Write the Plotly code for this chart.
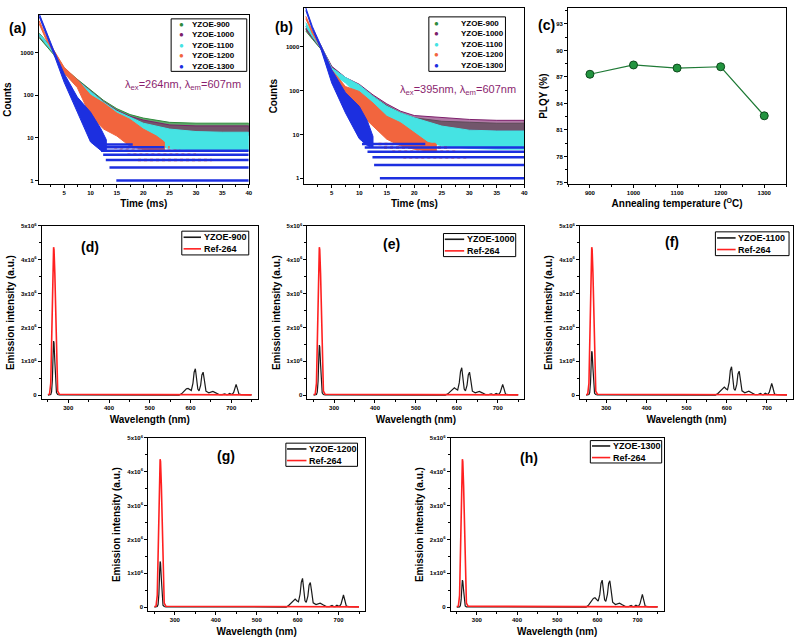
import plotly.graph_objects as go

FONT = "Liberation Sans"
W, H = 800, 642

SERIES = ["YZOE-900", "YZOE-1000", "YZOE-1100", "YZOE-1200", "YZOE-1300"]
COLORS = ["#2e8b3c", "#7d1f6b", "#45e3e3", "#f2653e", "#1c2fe0"]
FILLS = ["rgba(46,139,60,0.75)", "rgba(125,31,107,0.6)", "#45e3e3", "#f2653e", "#1c2fe0"]

# ---------------- (a) decay, lambda_ex = 264 nm (counts envelopes)
a_t = [0.3, 1.5, 3, 5, 7.5, 10, 12.5, 15, 17.5, 20, 25, 30, 35, 40]
a_900_hi = [2800, 1900, 1100, 430, 235, 135, 75, 48, 35, 29, 23, 22, 22, 22]
a_900_lo = [2200, 1500, 900, 350, 185, 105, 58, 36, 25, 20, 15, 13, 13, 13]
a_1000_hi = [2700, 1850, 1080, 420, 225, 128, 70, 44, 32, 26, 20, 19, 19, 19]
a_1000_lo = [2350, 1620, 950, 340, 175, 95, 52, 31, 21, 17, 12.5, 11.5, 11.5, 11.5]
a_1100_hi = [2700, 1850, 1080, 420, 220, 120, 68, 42, 30, 22, 16, 14, 13.5, 13.5]
a_1100_lo = [2450, 1650, 960, 330, 160, 75, 36, 18, 11, 8, 5.5, 5, 5, 5]
a_t_1200 = [0.3, 1.5, 3, 5, 7.5, 10, 12.5, 15, 17.5, 20, 22.5, 24]
a_1200_hi = [5500, 2500, 1150, 450, 230, 100, 65, 38, 27, 16, 11, 8]
a_1200_lo = [4600, 2100, 1000, 330, 150, 32, 16, 11, 6.3, 5.3, 5, 5]
a_t_1300 = [0.3, 1.5, 3, 5, 7.5, 10, 12, 13]
a_1300_hi = [8000, 3300, 1150, 320, 90, 40, 16, 9]
a_1300_lo = [6800, 2700, 950, 200, 40, 8, 5, 5]
a_1300_levels = [1, 2, 3, 4, 5, 6, 7]
a_1300_start = [14.9, 13.6, 12.9, 12.4, 12.0, 11.5, 11.1]
a_1300_end = [40, 40, 40, 40, 40, 24, 18]
a_1200_levels = [3, 4, 5, 6]
a_1200_start = [19, 17, 15.5, 14.5]
a_1200_end = [33, 30, 27, 25]

# ---------------- (b) decay, lambda_ex = 395 nm
b_t = [0.3, 1.5, 3, 5, 7.5, 10, 12.5, 15, 17.5, 20, 25, 30, 35, 40]
b_900_hi = [2700, 1800, 1050, 340, 190, 130, 74, 46, 31, 24, 20, 19, 18, 18]
b_900_lo = [2300, 1500, 900, 280, 155, 95, 55, 34, 22, 17, 13, 12, 12, 12]
b_1000_hi = [3000, 1900, 1080, 360, 200, 140, 80, 50, 34, 27, 24, 22, 21, 21]
b_1000_lo = [2500, 1600, 930, 290, 160, 100, 58, 36, 23, 18, 13.5, 12.5, 12, 12]
b_1100_hi = [3600, 2000, 1100, 330, 200, 135, 74, 44, 31, 24, 15.5, 12.5, 12, 12]
b_1100_lo = [3000, 1700, 950, 250, 150, 74, 37, 15.5, 11, 7.7, 5.5, 4.8, 4.6, 4.6]
b_t_1200 = [0.3, 1.5, 3, 5, 7.5, 10, 12.5, 15, 17.5, 20, 22.5, 24]
b_1200_hi = [5000, 2300, 1100, 300, 124, 96, 52, 26, 18.5, 11, 6.5, 6]
b_1200_lo = [4400, 2000, 950, 190, 62, 31, 15.5, 7.8, 5.5, 4.6, 4.2, 4.2]
b_t_1300 = [0.3, 1.5, 3, 5, 7.5, 10, 11.5, 12.5]
b_1300_hi = [7800, 2900, 1100, 300, 90, 44, 20, 9]
b_1300_lo = [6800, 2500, 920, 150, 31, 8, 5.5, 5]
b_1300_levels = [1, 2, 3, 4, 5, 6]
b_1300_start = [13.75, 12.7, 12.4, 11.5, 11.0, 10.5]
b_1300_end = [40, 40, 40, 40, 40, 22]
b_1200_levels = [3, 4, 5, 6]
b_1200_start = [18, 16, 14.5, 13.5]
b_1200_end = [30, 28, 26, 24]

# ---------------- (c) PLQY
c_temp = [900, 1000, 1100, 1200, 1300]
c_plqy = [87.3, 88.35, 88.0, 88.15, 82.6]

# ---------------- (d)-(h) emission spectra (units of 1e6)
wl = [250, 254, 257, 259, 261, 263, 264, 265, 267, 269, 271, 274, 278, 300, 330, 350, 400, 500,
      572, 578, 585, 590, 594, 598, 602, 606, 609, 612, 615, 618, 621, 625, 628, 631, 634, 638,
      645, 650, 655, 662, 670, 678, 684, 688, 692, 696, 699, 702, 706, 709, 712, 715, 719, 725, 735, 750]
ref_264 = [0.02, 0.03, 0.35, 1.5, 3.0, 4.1, 4.37, 4.3, 3.6, 2.3, 1.0, 0.12, 0.03, 0.03, 0.03, 0.02, 0.01, 0.01,
           0.01, 0.01, 0.01, 0.01, 0.01, 0.01, 0.01, 0.01, 0.01, 0.01, 0.01, 0.01, 0.01, 0.01, 0.01, 0.01, 0.01, 0.01,
           0.01, 0.01, 0.01, 0.01, 0.01, 0.01, 0.01, 0.01, 0.01, 0.01, 0.01, 0.01, 0.01, 0.01, 0.01, 0.01, 0.01, 0.01, 0.01, 0.01]
yzoe_900 = [0.0, 0.0, 0.02, 0.1, 0.45, 1.3, 1.6, 1.55, 1.0, 0.35, 0.08, 0.02, 0.01, 0.01, 0.01, 0.005, 0.005, 0.005,
            0.005, 0.04, 0.12, 0.19, 0.2, 0.16, 0.14, 0.35, 0.68, 0.78, 0.5, 0.18, 0.13, 0.3, 0.6, 0.68, 0.45, 0.12,
            0.07, 0.09, 0.11, 0.07, 0.02, 0.02, 0.04, 0.02, 0.02, 0.05, 0.03, 0.02, 0.08, 0.22, 0.32, 0.2, 0.03, 0.02, 0.01, 0.01]
yzoe_1000 = [0.0, 0.0, 0.02, 0.09, 0.42, 1.2, 1.48, 1.43, 0.92, 0.32, 0.07, 0.02, 0.01, 0.01, 0.01, 0.005, 0.005, 0.005,
             0.005, 0.04, 0.13, 0.2, 0.22, 0.18, 0.15, 0.37, 0.7, 0.81, 0.52, 0.18, 0.13, 0.3, 0.6, 0.68, 0.45, 0.12,
             0.07, 0.09, 0.11, 0.07, 0.02, 0.02, 0.04, 0.02, 0.02, 0.05, 0.03, 0.02, 0.08, 0.22, 0.32, 0.2, 0.03, 0.02, 0.01, 0.01]
yzoe_1100 = [0.0, 0.0, 0.02, 0.08, 0.37, 1.05, 1.3, 1.26, 0.8, 0.28, 0.06, 0.02, 0.01, 0.01, 0.01, 0.005, 0.005, 0.005,
             0.005, 0.05, 0.14, 0.22, 0.24, 0.19, 0.16, 0.38, 0.73, 0.84, 0.54, 0.19, 0.14, 0.32, 0.63, 0.71, 0.47, 0.13,
             0.07, 0.09, 0.12, 0.07, 0.02, 0.02, 0.05, 0.02, 0.02, 0.06, 0.03, 0.02, 0.09, 0.24, 0.35, 0.22, 0.03, 0.02, 0.01, 0.01]
yzoe_1200 = [0.0, 0.0, 0.02, 0.08, 0.38, 1.1, 1.35, 1.3, 0.84, 0.29, 0.06, 0.02, 0.01, 0.01, 0.01, 0.005, 0.005, 0.005,
             0.005, 0.05, 0.14, 0.22, 0.24, 0.19, 0.16, 0.39, 0.74, 0.85, 0.55, 0.19, 0.14, 0.33, 0.65, 0.73, 0.48, 0.13,
             0.08, 0.1, 0.12, 0.07, 0.02, 0.02, 0.05, 0.02, 0.02, 0.06, 0.03, 0.02, 0.09, 0.25, 0.36, 0.22, 0.03, 0.02, 0.01, 0.01]
yzoe_1300 = [0.0, 0.0, 0.01, 0.05, 0.23, 0.65, 0.8, 0.77, 0.5, 0.17, 0.04, 0.01, 0.01, 0.01, 0.01, 0.005, 0.005, 0.005,
             0.005, 0.06, 0.17, 0.26, 0.28, 0.22, 0.18, 0.37, 0.7, 0.8, 0.55, 0.22, 0.17, 0.38, 0.7, 0.78, 0.52, 0.15,
             0.08, 0.1, 0.12, 0.07, 0.02, 0.02, 0.05, 0.02, 0.02, 0.06, 0.03, 0.02, 0.1, 0.26, 0.38, 0.23, 0.03, 0.02, 0.01, 0.01]

SPEC_Y_TICKS = [0, 1, 2, 3, 4, 5]
SPEC_Y_TEXT = ["0", "1x10<sup>6</sup>", "2x10<sup>6</sup>", "3x10<sup>6</sup>", "4x10<sup>6</sup>", "5x10<sup>6</sup>"]

fig = go.Figure()


def pxx(x):
    return x / W


def pxy(y):
    return 1 - y / H


def band(t, hi, lo, color, fill, n):
    fig.add_trace(go.Scatter(x=list(t) + list(t)[::-1], y=list(hi) + list(lo)[::-1], mode="lines",
                             fill="toself", fillcolor=fill, line=dict(color=color, width=1),
                             xaxis="x%d" % n, yaxis="y%d" % n, showlegend=False, hoverinfo="skip"))


def rows(levels, starts, ends, color, n, dash, width):
    xs, ys = [], []
    for lv, s, e in zip(levels, starts, ends):
        xs += [s, e, None]
        ys += [lv, lv, None]
    fig.add_trace(go.Scatter(x=xs, y=ys, mode="lines", line=dict(color=color, width=width, dash=dash),
                             xaxis="x%d" % n, yaxis="y%d" % n, showlegend=False, hoverinfo="skip"))


# panel (a)
band(a_t, a_900_hi, a_900_lo, COLORS[0], FILLS[0], 1)
band(a_t, a_1000_hi, a_1000_lo, COLORS[1], FILLS[1], 1)
band(a_t, a_1100_hi, a_1100_lo, COLORS[2], FILLS[2], 1)
band(a_t_1200, a_1200_hi, a_1200_lo, COLORS[3], FILLS[3], 1)
rows(a_1200_levels, a_1200_start, a_1200_end, COLORS[3], 1, "dot", 2.5)
band(a_t_1300, a_1300_hi, a_1300_lo, COLORS[4], FILLS[4], 1)
rows(a_1300_levels, a_1300_start, a_1300_end, COLORS[4], 1, "solid", 2.5)

# panel (b)
band(b_t, b_900_hi, b_900_lo, COLORS[0], FILLS[0], 2)
band(b_t, b_1000_hi, b_1000_lo, COLORS[1], FILLS[1], 2)
band(b_t, b_1100_hi, b_1100_lo, COLORS[2], FILLS[2], 2)
band(b_t_1200, b_1200_hi, b_1200_lo, COLORS[3], FILLS[3], 2)
rows(b_1200_levels, b_1200_start, b_1200_end, COLORS[3], 2, "dot", 2.5)
band(b_t_1300, b_1300_hi, b_1300_lo, COLORS[4], FILLS[4], 2)
rows(b_1300_levels, b_1300_start, b_1300_end, COLORS[4], 2, "solid", 2.5)

# panel (c)
fig.add_trace(go.Scatter(x=c_temp, y=c_plqy, mode="lines+markers", xaxis="x3", yaxis="y3",
                         line=dict(color="#1f7a36", width=1.2),
                         marker=dict(size=8, color="#22943f", line=dict(color="#0d4a1c", width=1)),
                         showlegend=False))

spectra = [("YZOE-900", yzoe_900, 4), ("YZOE-1000", yzoe_1000, 5), ("YZOE-1100", yzoe_1100, 6),
           ("YZOE-1200", yzoe_1200, 7), ("YZOE-1300", yzoe_1300, 8)]
for name, vals, n in spectra:
    fig.add_trace(go.Scatter(x=wl, y=vals, mode="lines", name=name, line=dict(color="#1a1a1a", width=1.2),
                             xaxis="x%d" % n, yaxis="y%d" % n, showlegend=False))
    fig.add_trace(go.Scatter(x=wl, y=ref_264, mode="lines", name="Ref-264", line=dict(color="#ff2020", width=1.6),
                             xaxis="x%d" % n, yaxis="y%d" % n, showlegend=False))

TICKF = dict(family=FONT, size=6, color="black", weight="bold")
TITF = dict(family=FONT, size=10, color="black", weight="bold")
AX = dict(showline=True, linecolor="black", linewidth=1, mirror=True, ticks="outside", ticklen=3,
          tickwidth=1, tickcolor="black", showgrid=False, zeroline=False, tickfont=TICKF)

# domains in pixels: (x0, x1, y0_top, y1_bottom)
DOM = {1: (39, 250, 11, 182), 2: (306, 527, 4, 182), 3: (571, 790, 4, 182),
       4: (42, 259, 224, 399), 5: (309, 527, 224, 399), 6: (583, 797, 224, 399),
       7: (149, 367, 438, 613), 8: (453, 667, 438, 613)}

layout = dict(width=W, height=H, margin=dict(l=0, r=0, t=0, b=0), paper_bgcolor="white",
              plot_bgcolor="white", showlegend=False, font=dict(family=FONT))


def dx(n):
    d = DOM[n]
    return [pxx(d[0]), pxx(d[1])]


def dy(n):
    d = DOM[n]
    return [pxy(d[3]), pxy(d[2])]


for n, xr, yr in [(1, [0.2, 40], [-0.09, 3.88]), (2, [0.05, 40], [-0.14, 3.89])]:
    layout["xaxis%d" % n] = dict(AX, domain=dx(n), anchor="y%d" % n, range=xr, tickvals=[5, 10, 15, 20, 25, 30, 35, 40],
                                 minor=dict(ticks="outside", dtick=2.5, ticklen=2, tickcolor="black"),
                                 title=dict(text="Time (ms)", font=TITF, standoff=4))
    layout["yaxis%d" % n] = dict(AX, domain=dy(n), anchor="x%d" % n, type="log", range=yr,
                                 tickvals=[1, 10, 100, 1000], ticktext=["1", "10", "100", "1000"],
                                 title=dict(text="Counts", font=TITF, standoff=6))

layout["xaxis3"] = dict(AX, domain=dx(3), anchor="y3", range=[850, 1350], tickvals=[900, 1000, 1100, 1200, 1300],
                        minor=dict(ticks="outside", dtick=50, ticklen=2, tickcolor="black"),
                        title=dict(text="Annealing temperature (<sup>O</sup>C)", font=TITF, standoff=4))
layout["yaxis3"] = dict(AX, domain=dy(3), anchor="x3", range=[74.85, 94.8], tickvals=[75, 78, 81, 84, 87, 90, 93],
                        minor=dict(ticks="outside", dtick=1.5, ticklen=2, tickcolor="black"),
                        title=dict(text="PLQY (%)", font=TITF, standoff=6))

SPEC_TICKF = dict(family=FONT, size=6, color="black", weight="bold")
for n in range(4, 9):
    layout["xaxis%d" % n] = dict(AX, domain=dx(n), anchor="y%d" % n, range=[235, 765],
                                 tickvals=[300, 400, 500, 600, 700], tickfont=SPEC_TICKF,
                                 minor=dict(ticks="outside", dtick=50, ticklen=2, tickcolor="black"),
                                 title=dict(text="Wavelength (nm)", font=TITF, standoff=5))
    layout["yaxis%d" % n] = dict(AX, domain=dy(n), anchor="x%d" % n, range=[-0.12, 5.0],
                                 tickvals=SPEC_Y_TICKS, ticktext=SPEC_Y_TEXT, tickfont=SPEC_TICKF,
                                 minor=dict(ticks="outside", dtick=0.5, ticklen=2, tickcolor="black"),
                                 title=dict(text="Emission intensity (a.u.)", font=TITF, standoff=4))

annotations = []
shapes = []


def text(x, y, s, size, color="black", bold=True, anchor="center"):
    annotations.append(dict(x=pxx(x), y=pxy(y), xref="paper", yref="paper", text=s, showarrow=False,
                            xanchor=anchor, yanchor="middle", align="left", borderpad=0,
                            font=dict(family=FONT, size=size, color=color, weight="bold" if bold else "normal")))


def box(x0, y0, x1, y1):
    shapes.append(dict(type="rect", xref="paper", yref="paper", x0=pxx(x0), x1=pxx(x1), y0=pxy(y1), y1=pxy(y0),
                       line=dict(color="black", width=1), fillcolor="white", layer="above"))


# panel letters
for lab, x, y in [("(a)", 18, 24), ("(b)", 285, 23), ("(c)", 549, 21), ("(d)", 90, 245), ("(e)", 393, 242),
                  ("(f)", 675, 240), ("(g)", 227, 456), ("(h)", 532, 458)]:
    text(x, y, lab, 14)

text(184, 82, "λ<sub>ex</sub>=264nm, λ<sub>em</sub>=607nm", 11, color="#8b1f6f", bold=False)
text(460, 87, "λ<sub>ex</sub>=395nm, λ<sub>em</sub>=607nm", 11, color="#8b1f6f", bold=False)

# decay legends (one block of rows each)
for (bx0, by0, bx1, by1, mx, tx) in [(172, 15, 248, 68, 182, 192), (431, 13, 508, 68, 438.5, 462)]:
    box(bx0, by0, bx1, by1)
    cy = (by0 + by1) / 2
    marks = "<br>".join("<span style='color:%s'>●</span>" % c for c in COLORS)
    text(mx, cy, marks, 8, bold=False)
    text(tx, cy, "<br>".join(SERIES), 8, anchor="left")

# spectra legends
SPEC_LEG = {4: (182.7, 229.3, 250, 253.3, 184.5, 202, 204),
            5: (445.7, 231.7, 518.3, 255, 447, 466.5, 468.5),
            6: (719, 230, 793, 254, 720.7, 739.3, 741),
            7: (287.3, 443.3, 359.3, 466.7, 288.5, 308, 310),
            8: (593.3, 440.7, 665, 463.3, 595, 613.3, 615)}
for name, vals, n in spectra:
    bx0, by0, bx1, by1, lx0, lx1, tx = SPEC_LEG[n]
    box(bx0, by0, bx1, by1)
    cy = (by0 + by1) / 2
    for col, ry in [("#1a1a1a", cy - 5.85), ("#ff2020", cy + 5.85)]:
        shapes.append(dict(type="line", xref="paper", yref="paper", x0=pxx(lx0), x1=pxx(lx1), y0=pxy(ry), y1=pxy(ry),
                           line=dict(color=col, width=1.6), layer="above"))
    text(tx, cy, name + "<br>Ref-264", 9, anchor="left")

layout["annotations"] = annotations
layout["shapes"] = shapes
fig.update_layout(**layout)
fig.write_html("out.html")
